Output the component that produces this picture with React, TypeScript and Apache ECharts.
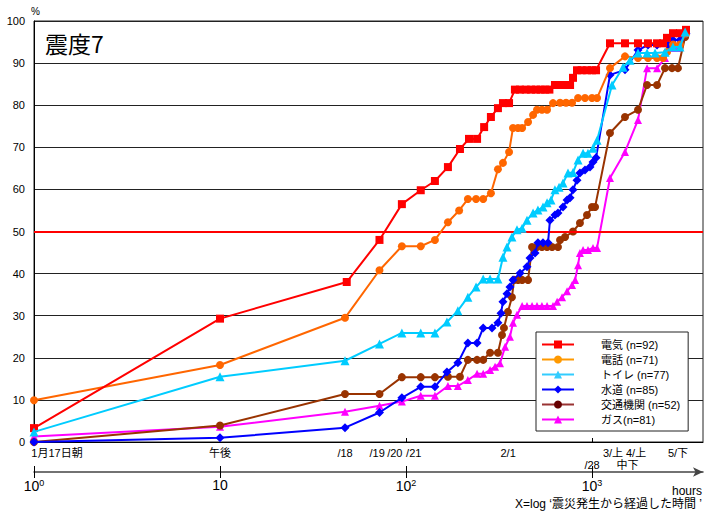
import React, { useEffect, useRef } from 'react';
import * as echarts from 'echarts';

// [hours since the quake, % restored]
const denki: [number, number][] = [
  [1, 3.3], [10, 29.3], [48, 38], [72, 48], [95, 56.5], [120, 59.8], [143, 62], [168, 65.3],
  [195, 69.6], [218, 72], [241, 72], [263, 74.8], [286, 77.2], [312, 79.3], [332, 80.5], [358, 80.5],
  [385, 83.7], [410, 83.7], [440, 83.7], [470, 83.7], [500, 83.7], [530, 83.7], [560, 83.7], [590, 83.7],
  [632, 84.8], [680, 84.8], [716, 84.8], [762, 84.8], [790, 86.5], [830, 88.3], [880, 88.3], [940, 88.3],
  [1000, 88.3], [1051, 88.3], [1249, 94.7], [1504, 94.7], [1767, 94.7], [2000, 94.7], [2236, 94.7],
  [2409, 94.7], [2530, 96], [2725, 97.1], [2970, 97.1], [3200, 97.9],
];
const denwa: [number, number][] = [
  [1, 9.9], [10, 18.3], [47, 29.5], [72, 40.8], [95, 46.5], [120, 46.5], [143, 48], [168, 52.2],
  [193, 55], [215, 57.7], [238, 57.7], [260, 57.7], [286, 59.1], [312, 64.8], [332, 66.3], [358, 68.9],
  [376, 74.6], [400, 74.6], [421, 74.6], [453, 76], [482, 77.7], [506, 78.9], [538, 78.9], [573, 78.9],
  [617, 80.5], [673, 80.6], [725, 80.6], [781, 80.6], [841, 81.7], [917, 81.7], [1000, 81.7], [1064, 81.7],
  [1249, 88.8], [1504, 91.6], [1767, 91.2], [2000, 91.2], [2236, 91.2], [2409, 91.2], [2530, 92.6],
  [2725, 94.4], [2970, 94.4], [3200, 97],
];
const toire: [number, number][] = [
  [1, 2.4], [10, 15.5], [47, 19.3], [72, 23.3], [95, 25.9], [120, 25.9], [143, 25.9], [166, 28.5],
  [190, 31.2], [215, 34.4], [238, 36.8], [260, 38.7], [283, 38.7], [312, 38.7], [332, 43.9], [349, 46.3],
  [371, 48.7], [395, 50.4], [421, 50.8], [447, 52.7], [482, 54.4], [512, 55.1], [545, 55.8], [573, 56.8],
  [602, 57.5], [632, 59.9], [665, 60.5], [698, 61.5], [743, 63.9], [790, 64], [841, 67], [895, 68.6],
  [951, 68.6], [1012, 69.8], [1064, 71.7], [1281, 84.8], [1468, 89], [1600, 90.7], [1767, 92.4],
  [1976, 92.4], [2182, 92.4], [2468, 92.6], [2725, 93.8], [2970, 93.8], [3166, 97.4],
];
const suido: [number, number][] = [
  [1, 0], [10, 1], [47, 3.4], [72, 7], [95, 10.5], [120, 13.1], [143, 13.1], [166, 16.6],
  [190, 18.8], [215, 23.5], [241, 23.5], [260, 27.1], [290, 27.1], [312, 28.3], [324, 30.6], [332, 33.3],
  [349, 35.2], [362, 36.8], [376, 38.5], [410, 40.1], [447, 41.6], [464, 43.7], [494, 44.9], [512, 47.3],
  [545, 47.3], [580, 47.3], [594, 52.7], [632, 53.9], [656, 54.4], [698, 55.8], [734, 57.5], [762, 58],
  [790, 59.9], [830, 62.2], [861, 63.9], [917, 64.6], [975, 65.3], [1012, 66.5], [1051, 67.5],
  [1249, 87.2], [1504, 88.4], [1767, 93.1], [2000, 94.3], [2236, 94.3], [2564, 94.3], [2725, 95.5],
  [2970, 95.5], [3200, 97],
];
const kotsu: [number, number][] = [
  [1, 0], [10, 3.9], [47, 11.4], [72, 11.4], [95, 15.4], [120, 15.4], [143, 15.4], [168, 15.5],
  [195, 15.5], [215, 19.5], [241, 19.5], [260, 19.5], [283, 21.2], [312, 21.2], [328, 25.4], [336, 27.1],
  [353, 30.9], [371, 34.4], [381, 38.5], [400, 38.5], [421, 38.5], [453, 38.5], [476, 46.3], [506, 46.3],
  [538, 46.3], [573, 46.3], [610, 46.3], [656, 46.3], [673, 48], [716, 48.7], [790, 50], [861, 52],
  [940, 53.9], [1000, 55.8], [1038, 55.8], [1249, 73.4], [1504, 77.2], [1767, 78.9], [1976, 84.8],
  [2236, 84.8], [2468, 88.8], [2692, 88.8], [2897, 88.8], [3166, 96.2],
];
const gasu: [number, number][] = [
  [1, 1.3], [10, 3.6], [47, 7.2], [72, 8.6], [95, 9.6], [120, 11], [143, 11], [168, 13.3],
  [190, 13.3], [215, 14.7], [241, 16.2], [260, 16.2], [283, 17.1], [301, 17.9], [320, 18.7], [341, 22.6],
  [362, 25], [376, 28.3], [395, 30.2], [421, 32.3], [447, 32.3], [476, 32.3], [506, 32.3], [538, 32.3],
  [573, 32.3], [617, 32.3], [649, 33.3], [690, 34.4], [734, 35.8], [781, 37.3], [811, 38.5], [841, 42],
  [861, 44.9], [895, 45.6], [951, 45.6], [1012, 46.1], [1064, 46.1], [1249, 62.7], [1504, 68.9],
  [1767, 76.5], [1976, 88.8], [2236, 88.8], [2468, 91.2], [2692, 93.6], [2897, 93.6], [3166, 97.4],
];

const seriesNames = ['電気 (n=92)', '電話 (n=71)', 'トイレ (n=77)', '水道 (n=85)', '交通機関 (n=52)', 'ガス(n=81)'];
const targetLine = 50;

// date ticks along the plot's bottom edge, placed at hours since the quake
const dateTickHours = [1, 10, 47, 70, 87, 110, 354, 1000, 1297, 1449, 1660, 1725, 2900];
const dateTickLabels = ['1月17日朝', '午後', '/18', '/19', '/20', '/21', '2/1', '/28', '3/上', '中', '下', '4/上', '5/下'];
const secondRowLabels = ['/28', '中', '下'];
const decadeTicks = [1, 10, 100, 1000];
const decadeLabels = ['10{sup|0}', '10', '10{sup|2}', '10{sup|3}'];

const X_MIN = 1;
const X_MAX = 3950;
const FONT = '"Liberation Sans", Arial, "Noto Sans CJK JP", sans-serif';

function matchIndex(list: number[], v: number) {
  return list.findIndex((h) => Math.abs(h - v) / h < 0.01);
}

export default function App() {
  const ref = useRef<HTMLDivElement>(null);

  useEffect(() => {
    if (!ref.current) return;
    const chart = echarts.init(ref.current, undefined, { renderer: 'svg' });

    const mk = (name: string, data: [number, number][], color: string, symbol: string, size: number, z: number) => ({
      name,
      type: 'line',
      data,
      symbol,
      symbolSize: size,
      showSymbol: true,
      z,
      lineStyle: { color, width: 2 },
      itemStyle: { color },
      emphasis: { disabled: true },
    });

    const series: any[] = [
      mk(seriesNames[0], denki, '#FF0000', 'rect', 8, 7),
      mk(seriesNames[1], denwa, '#FF6600', 'circle', 8, 6),
      mk(seriesNames[2], toire, '#00CCFF', 'triangle', 9, 8),
      mk(seriesNames[3], suido, '#0000FF', 'diamond', 9, 5),
      mk(seriesNames[4], kotsu, '#993300', 'circle', 8, 4),
      mk(seriesNames[5], gasu, '#FF00FF', 'triangle', 8, 3),
    ];
    series[0].markLine = {
      silent: true,
      symbol: 'none',
      label: { show: false },
      lineStyle: { color: '#FF0000', width: 2, type: 'solid' },
      data: [{ yAxis: targetLine }],
    };

    chart.setOption({
      animation: false,
      backgroundColor: '#fff',
      textStyle: { fontFamily: FONT },
      title: [
        {
          text: '震度7',
          left: 45,
          top: 31,
          padding: 0,
          textStyle: { fontSize: 23, fontWeight: 'normal', color: '#000', fontFamily: '"Noto Sans CJK JP", sans-serif' },
        },
        {
          text: 'X=log ‘震災発生から経過した時間 ’',
          right: 17,
          top: 498,
          padding: 0,
          textStyle: { fontSize: 12, fontWeight: 'normal', color: '#000', fontFamily: FONT },
        },
      ],
      legend: {
        orient: 'vertical',
        left: 536,
        top: 332,
        padding: [6, 8, 5, 5],
        itemWidth: 32,
        itemHeight: 10,
        itemGap: 2,
        backgroundColor: '#fff',
        borderColor: '#222',
        borderWidth: 1,
        selectedMode: false,
        textStyle: { fontSize: 11, color: '#000', padding: [0, 0, 0, 22], lineHeight: 13 },
        data: [
          { name: seriesNames[0] },
          { name: seriesNames[1], itemStyle: { color: '#FF9900' }, lineStyle: { color: '#FF9900' } },
          { name: seriesNames[2], itemStyle: { color: '#33CCFF' }, lineStyle: { color: '#33CCFF' } },
          { name: seriesNames[3] },
          { name: seriesNames[4], itemStyle: { color: '#660000' }, lineStyle: { color: '#993333' } },
          { name: seriesNames[5] },
        ],
      },
      grid: {
        left: 34,
        right: 16,
        top: 21,
        bottom: 72,
        containLabel: false,
        outerBoundsMode: 'none',
        show: true,
        borderColor: '#222',
        borderWidth: 1,
        backgroundColor: 'transparent',
      },
      xAxis: [
        {
          type: 'log',
          logBase: 10,
          min: X_MIN,
          max: X_MAX,
          axisLine: { show: true, lineStyle: { color: '#000', width: 1 } },
          splitLine: { show: false },
          axisTick: { show: true, inside: true, length: 4, customValues: [100, 1000], lineStyle: { color: '#000' } },
          axisLabel: {
            customValues: dateTickHours,
            showMinLabel: true,
            showMaxLabel: true,
            margin: 5,
            fontSize: 11,
            color: '#000',
            lineHeight: 12,
            formatter: (v: number) => {
              const i = matchIndex(dateTickHours, v);
              if (i < 0) return '';
              const t = dateTickLabels[i];
              if (i === 0) return '{first|' + t + '}';
              if (secondRowLabels.includes(t)) return '\n' + t;
              return t;
            },
            rich: { first: { fontSize: 11, padding: [0, 0, 0, 46] } },
          },
        },
        {
          type: 'log',
          logBase: 10,
          min: X_MIN,
          max: X_MAX,
          position: 'bottom',
          offset: 30,
          name: 'hours',
          nameLocation: 'end',
          nameGap: -1,
          nameTextStyle: { align: 'right', verticalAlign: 'top', padding: [13, 0, 0, 0], fontSize: 12, color: '#000' },
          axisLine: {
            show: true,
            symbol: ['none', 'arrow'],
            symbolSize: [7, 10],
            lineStyle: { color: '#444', width: 1.5 },
          },
          splitLine: { show: false },
          axisTick: { show: true, length: 6, customValues: decadeTicks, lineStyle: { color: '#000' } },
          axisLabel: {
            customValues: decadeTicks,
            showMinLabel: true,
            showMaxLabel: true,
            margin: 6,
            fontSize: 14,
            color: '#000',
            formatter: (v: number) => {
              const i = matchIndex(decadeTicks, v);
              return i < 0 ? '' : decadeLabels[i];
            },
            rich: { sup: { fontSize: 9, verticalAlign: 'top', padding: [0, 0, 7, 0] } },
          },
        },
        {
          type: 'log',
          logBase: 10,
          min: X_MIN,
          max: X_MAX,
          position: 'bottom',
          offset: 30,
          axisLine: { show: false },
          splitLine: { show: false },
          axisTick: { show: true, inside: true, length: 6, customValues: decadeTicks, lineStyle: { color: '#000' } },
          axisLabel: { show: false },
        },
      ],
      yAxis: {
        type: 'value',
        min: 0,
        max: 100,
        interval: 10,
        name: '%',
        nameLocation: 'end',
        nameGap: 5,
        nameTextStyle: { fontSize: 10, color: '#000', align: 'left', padding: [0, 0, 0, -3] },
        axisLine: { show: true, lineStyle: { color: '#000' } },
        axisTick: { show: false },
        axisLabel: { fontSize: 11, color: '#000', margin: 9 },
        splitLine: { show: true, lineStyle: { color: '#222', width: 1 } },
      },
      series,
    });

    return () => chart.dispose();
  }, []);

  return (
    <div
      ref={ref}
      style={{ position: 'fixed', left: 0, top: 0, width: 719, height: 514, background: '#fff' }}
    />
  );
}
